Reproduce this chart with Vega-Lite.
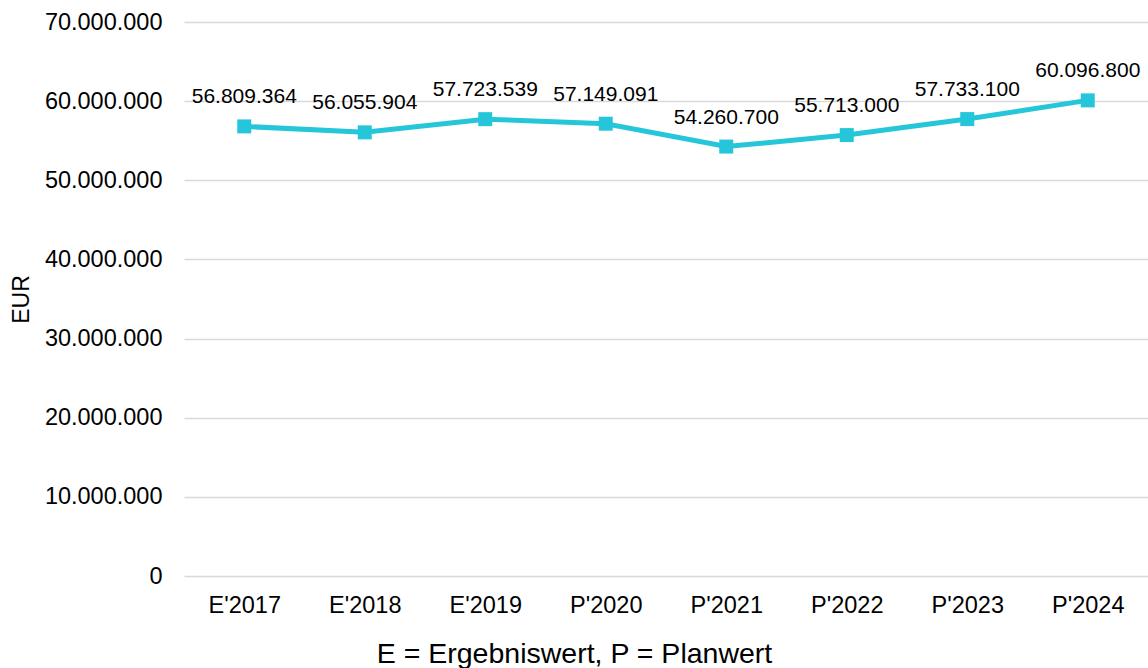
{
  "$schema": "https://vega.github.io/schema/vega-lite/v6.json",
  "width": 964,
  "height": 554,
  "autosize": {"type": "none"},
  "padding": {"left": 184, "top": 22, "right": 0, "bottom": 92},
  "config": {
    "locale": {"number": {"decimal": ",", "thousands": ".", "grouping": [3], "currency": ["", " €"]}},
    "view": {"stroke": null},
    "font": "Liberation Sans",
    "axis": {"labelFont": "Liberation Sans", "titleFont": "Liberation Sans", "labelColor": "#000000", "titleColor": "#000000", "titleFontWeight": "normal"}
  },
  "data": {"values": [
    {"jahr": "E'2017", "wert": 56809364},
    {"jahr": "E'2018", "wert": 56055904},
    {"jahr": "E'2019", "wert": 57723539},
    {"jahr": "P'2020", "wert": 57149091},
    {"jahr": "P'2021", "wert": 54260700},
    {"jahr": "P'2022", "wert": 55713000},
    {"jahr": "P'2023", "wert": 57733100},
    {"jahr": "P'2024", "wert": 60096800}
  ]},
  "encoding": {
    "x": {"field": "jahr", "type": "nominal", "sort": null,
      "scale": {"paddingInner": 0, "paddingOuter": 0},
      "axis": {"title": "E = Ergebniswert, P = Planwert", "titleX": 390, "titleAlign": "center", "labelAngle": 0, "labelFontSize": 23.5, "titleFontSize": 28.5, "ticks": false, "domain": false, "labelPadding": 17, "titlePadding": 23}},
    "y": {"field": "wert", "type": "quantitative",
      "scale": {"domain": [0, 70000000]},
      "axis": {"title": "EUR", "format": ",d", "values": [0,10000000,20000000,30000000,40000000,50000000,60000000,70000000], "labelOverlap": false, "labelBound": false, "labelFontSize": 23.5, "titleFontSize": 23, "ticks": false, "domain": false, "labelPadding": 22, "titlePadding": 11, "gridColor": "#d9d9d9", "gridWidth": 1.5}}
  },
  "layer": [
    {"mark": {"type": "line", "color": "#26c6da", "strokeWidth": 5}},
    {"mark": {"type": "square", "color": "#26c6da", "size": 196, "opacity": 1, "filled": true}},
    {"mark": {"type": "text", "fontSize": 21, "dy": -29, "color": "#000000"},
     "encoding": {"text": {"field": "wert", "type": "quantitative", "format": ",d"}}}
  ]
}
